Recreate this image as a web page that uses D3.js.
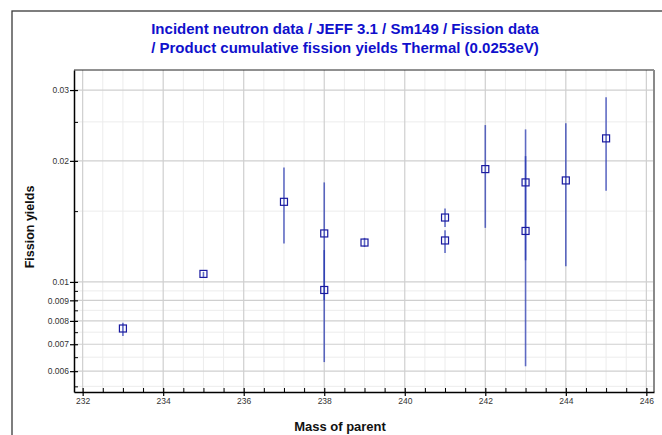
<!DOCTYPE html>
<html>
<head>
<meta charset="utf-8">
<script src="https://cdn.jsdelivr.net/npm/d3@7"></script>
<style>
  html, body { margin: 0; padding: 0; background: #fff; }
  svg { display: block; font-family: "Liberation Sans", Arial, sans-serif; }
</style>
</head>
<body>
<svg id="chart" width="662" height="435"></svg>
<script>
// ---- data ----
const titleLines = [
  "Incident neutron data / JEFF 3.1 / Sm149 / Fission data",
  "/ Product cumulative fission yields Thermal (0.0253eV)"
];
const xLabel = "Mass of parent";
const yLabel = "Fission yields";

const mass      = [233,     235,     237,     238,     238,     239,     241,     241,     242,     243,     243,     244,     245];
const yieldVal  = [0.00766, 0.01047, 0.01582, 0.0132,  0.00955, 0.01253, 0.01446, 0.01268, 0.01908, 0.01768, 0.01339, 0.01788, 0.02275];
const yieldLow  = [0.00734, 0.01029, 0.01246, 0.0090,  0.00632, 0.01222, 0.0137,  0.01181, 0.01363, 0.01132, 0.00617, 0.01094, 0.01685];
const yieldHigh = [0.00792, 0.01059, 0.01926, 0.01768, 0.0120,  0.01287, 0.01522, 0.01345, 0.02455, 0.02395, 0.02055, 0.02479, 0.02877];

const xMajorTicks = [232, 234, 236, 238, 240, 242, 244, 246];
const xMinorTicks = [232.5, 233, 233.5, 234.5, 235, 235.5, 236.5, 237, 237.5, 238.5, 239, 239.5,
                     240.5, 241, 241.5, 242.5, 243, 243.5, 244.5, 245, 245.5];
const yMajorTicks = [0.006, 0.007, 0.008, 0.009, 0.01, 0.02, 0.03];
const yMajorLabels = ["0.006", "0.007", "0.008", "0.009", "0.01", "0.02", "0.03"];
const yMinorTicks = [0.0055, 0.0065, 0.0075, 0.0085, 0.0095, 0.015, 0.025];

// ---- layout ----
const svg = d3.select("#chart");
const plot = { left: 74, right: 654, top: 70, bottom: 392 };

const x = d3.scaleLinear().domain([231.785, 246.19]).range([plot.left, plot.right]);
const y = d3.scaleLog().domain([0.005325, 0.03365]).range([plot.bottom, plot.top]);

// outer frame
svg.append("rect")
  .attr("x", 12).attr("y", 11).attr("width", 700).attr("height", 500)
  .attr("fill", "none").attr("stroke", "#3a3a3a").attr("stroke-width", 1.3);

// title
const title = svg.append("text")
  .attr("text-anchor", "middle")
  .attr("fill", "#1010cc")
  .attr("font-size", 15).attr("font-weight", "bold");
titleLines.forEach((t, i) => {
  title.append("tspan").attr("x", 345).attr("y", 34 + i * 19).text(t);
});

// grid
const grid = svg.append("g");
grid.selectAll("line.xmin").data(xMinorTicks).join("line")
  .attr("x1", d => x(d)).attr("x2", d => x(d))
  .attr("y1", plot.top).attr("y2", plot.bottom)
  .attr("stroke", "#ececec").attr("stroke-width", 1);
grid.selectAll("line.ymin").data(yMinorTicks).join("line")
  .attr("x1", plot.left).attr("x2", plot.right)
  .attr("y1", d => y(d)).attr("y2", d => y(d))
  .attr("stroke", "#ececec").attr("stroke-width", 1);
grid.selectAll("line.xmaj").data(xMajorTicks).join("line")
  .attr("x1", d => x(d)).attr("x2", d => x(d))
  .attr("y1", plot.top).attr("y2", plot.bottom)
  .attr("stroke", "#cfcfcf").attr("stroke-width", 1.2);
grid.selectAll("line.ymaj").data(yMajorTicks).join("line")
  .attr("x1", plot.left).attr("x2", plot.right)
  .attr("y1", d => y(d)).attr("y2", d => y(d))
  .attr("stroke", "#cfcfcf").attr("stroke-width", 1.2);

// plot border (top and right)
svg.append("line").attr("x1", plot.left).attr("x2", plot.right)
  .attr("y1", plot.top).attr("y2", plot.top)
  .attr("stroke", "#222").attr("stroke-width", 1);
svg.append("line").attr("x1", plot.right).attr("x2", plot.right)
  .attr("y1", plot.top).attr("y2", plot.bottom)
  .attr("stroke", "#8a8a8a").attr("stroke-width", 2);

// x axis
const xAxisG = svg.append("g").attr("transform", `translate(0,${plot.bottom})`);
xAxisG.call(d3.axisBottom(x).tickValues(xMajorTicks).tickFormat(d3.format("d")).tickSizeInner(4).tickSizeOuter(0));
xAxisG.select(".domain").attr("stroke", "#000").attr("stroke-width", 1.5);
xAxisG.selectAll(".tick line").attr("stroke", "#000").attr("y1", -4).attr("stroke-width", 1.2);
xAxisG.selectAll(".tick text").attr("font-size", 8.5).attr("fill", "#333")
  .attr("font-family", "Liberation Sans, Arial, sans-serif").attr("dy", "0.75em").attr("y", 6);
const xMinorG = svg.append("g").attr("transform", `translate(0,${plot.bottom})`);
xMinorG.call(d3.axisTop(x).tickValues(xMinorTicks).tickFormat("").tickSizeInner(4).tickSizeOuter(0));
xMinorG.select(".domain").remove();
xMinorG.selectAll(".tick line").attr("stroke", "#000");

// y axis
const yAxisG = svg.append("g").attr("transform", `translate(${plot.left},0)`);
yAxisG.call(d3.axisLeft(y).tickValues(yMajorTicks).tickFormat((d, i) => yMajorLabels[i]).tickSizeInner(4).tickSizeOuter(0));
yAxisG.select(".domain").attr("stroke", "#000").attr("stroke-width", 1.5);
yAxisG.selectAll(".tick line").attr("stroke", "#000").attr("x2", 4).attr("x1", -4).attr("stroke-width", 1.2);
yAxisG.selectAll(".tick text").attr("font-size", 8.5).attr("fill", "#333")
  .attr("font-family", "Liberation Sans, Arial, sans-serif").attr("x", -5);
const yMinorG = svg.append("g").attr("transform", `translate(${plot.left},0)`);
yMinorG.call(d3.axisRight(y).tickValues(yMinorTicks).tickFormat("").tickSizeInner(4).tickSizeOuter(0));
yMinorG.select(".domain").remove();
yMinorG.selectAll(".tick line").attr("stroke", "#000");

// axis titles
svg.append("text").attr("x", 340).attr("y", 431)
  .attr("text-anchor", "middle").attr("font-size", 13).attr("font-weight", "bold").attr("fill", "#111")
  .text(xLabel);
svg.append("text")
  .attr("transform", "translate(34,227) rotate(-90)")
  .attr("text-anchor", "middle").attr("font-size", 12.5).attr("font-weight", "bold").attr("fill", "#111")
  .text(yLabel);

// data
const idx = d3.range(mass.length);
const dataG = svg.append("g");
dataG.selectAll("line.err").data(idx).join("line")
  .attr("x1", i => x(mass[i])).attr("x2", i => x(mass[i]))
  .attr("y1", i => y(yieldLow[i])).attr("y2", i => y(yieldHigh[i]))
  .attr("stroke", "#2233b0").attr("stroke-opacity", 0.7).attr("stroke-width", 1.6);
dataG.selectAll("rect.pt").data(idx).join("rect")
  .attr("x", i => x(mass[i]) - 3.5).attr("y", i => y(yieldVal[i]) - 3.5)
  .attr("width", 7).attr("height", 7)
  .attr("fill", "none").attr("stroke", "#1a1aa0").attr("stroke-width", 1.2);
</script>
</body>
</html>
